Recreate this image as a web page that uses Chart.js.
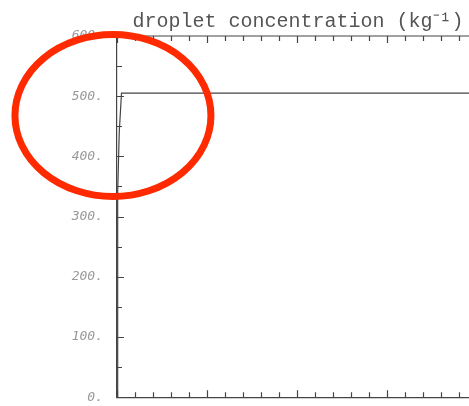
<!DOCTYPE html>
<html>
<head>
<meta charset="utf-8">
<script src="https://cdn.jsdelivr.net/npm/chart.js@4"></script>
<style>
  html, body { margin: 0; padding: 0; background: #fff; overflow: hidden; }
  #wrap { position: relative; width: 596px; height: 419px; }
</style>
</head>
<body>
<div id="wrap"><canvas id="c"></canvas></div>
<script>
// time axis (arbitrary units, one major tick per unit) and droplet concentration
const timeValues = [0, 0.004, 0.011, 0.025, 0.05, 5.32];
const concValues = [0, 150, 340, 440, 505, 505];
const yTickStep = 50;
const xTickStep = 0.2;

// red circle drawn over the corner of the curve
const markCenter = { x: -0.045, y: 468 };

const ink = "#444";

const insideTicks = {
  id: "insideTicks",
  afterDraw(chart) {
    const { ctx, chartArea: a, scales } = chart;
    const xs = scales.x, ys = scales.y;
    ctx.save();
    ctx.strokeStyle = ink;
    ctx.lineWidth = 1.2;
    ctx.beginPath();
    // top frame line
    ctx.moveTo(a.left, a.top);
    ctx.lineTo(a.right, a.top);
    xs.ticks.forEach(t => {
      const px = Math.round(xs.getPixelForValue(t.value)) + 0.5;
      const major = Math.abs(t.value - Math.round(t.value)) < 1e-6;
      const len = major ? 7 : 5;
      ctx.moveTo(px, a.bottom);
      ctx.lineTo(px, a.bottom - len);
      ctx.moveTo(px, a.top);
      ctx.lineTo(px, a.top + len);
    });
    ys.ticks.forEach(t => {
      const py = Math.round(ys.getPixelForValue(t.value)) + 0.5;
      const len = t.value % 100 === 0 ? 7 : 5;
      ctx.moveTo(a.left, py);
      ctx.lineTo(a.left + len, py);
    });
    ctx.stroke();

    // annotation ellipse
    const cx = xs.getPixelForValue(markCenter.x);
    const cy = ys.getPixelForValue(markCenter.y);
    ctx.strokeStyle = "#ff2a00";
    ctx.lineWidth = 7;
    ctx.beginPath();
    ctx.ellipse(cx, cy, 98, 81, 0, 0, Math.PI * 2);
    ctx.stroke();
    ctx.restore();
  }
};

new Chart(document.getElementById("c"), {
  type: "scatter",
  data: {
    datasets: [{
      data: timeValues.map((t, i) => ({ x: t, y: concValues[i] })),
      showLine: true,
      borderColor: ink,
      borderWidth: 1.2,
      pointRadius: 0,
      tension: 0
    }]
  },
  options: {
    responsive: true,
    maintainAspectRatio: false,
    animation: false,
    layout: { padding: 0 },
    plugins: {
      legend: { display: false },
      tooltip: { enabled: false },
      title: {
        display: true,
        text: "droplet concentration (kg\u207B\u00B9)",
        color: "#555",
        font: { family: "Liberation Mono", size: 20, weight: "normal" },
        padding: { top: 10, bottom: 2 }
      }
    },
    scales: {
      x: {
        type: "linear",
        min: 0,
        max: 5.32,
        ticks: { display: false, stepSize: xTickStep },
        grid: { display: false, drawTicks: false },
        border: { display: true, color: ink, width: 1.2 },
        afterFit(s) { s.height = 0; }
      },
      y: {
        min: 0,
        max: 600,
        ticks: {
          stepSize: yTickStep,
          padding: 14,
          color: "#999",
          font: { family: "DejaVu Sans Mono", size: 13, style: "italic" },
          callback: v => (v % 100 === 0 ? v + "." : "")
        },
        grid: { display: false, drawTicks: false },
        border: { display: true, color: ink, width: 1.2 },
        afterFit(s) { s.width = 117; }
      }
    }
  },
  plugins: [insideTicks]
});
</script>
</body>
</html>
